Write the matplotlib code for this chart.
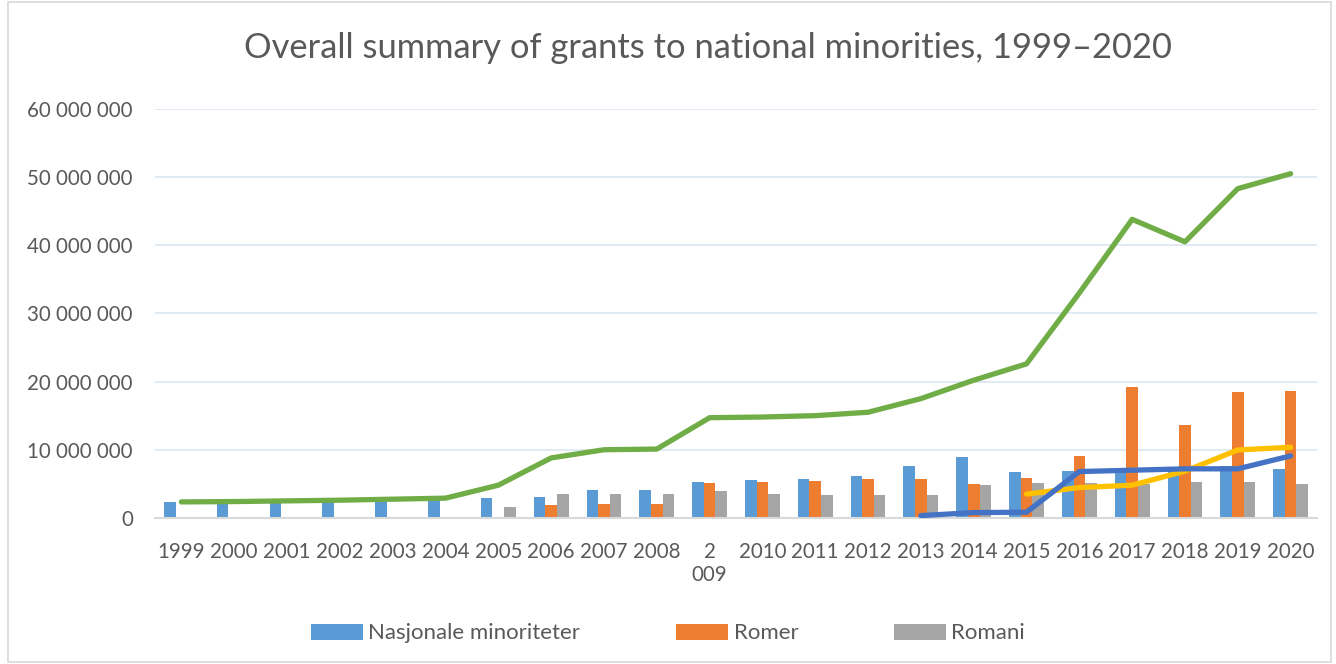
# grants to national minorities chart

import numpy as np
import matplotlib
matplotlib.use("Agg")
import matplotlib.pyplot as plt
from matplotlib.patches import Rectangle
from matplotlib.ticker import FuncFormatter

# data
years = ["1999", "2000", "2001", "2002", "2003", "2004", "2005", "2006", "2007", "2008",
         "2\n009", "2010", "2011", "2012", "2013", "2014", "2015", "2016", "2017", "2018",
         "2019", "2020"]

nasjonale = [2.4, 2.45, 2.5, 2.6, 2.7, 2.8, 2.9, 3.0, 4.06, 4.15,
             5.33, 5.53, 5.67, 6.11, 7.57, 9.0, 6.7, 6.94, 6.8, 7.0,
             7.6, 7.14]
romer = [None, None, None, None, None, None, None, 1.86, 2.0, 2.05,
         5.13, 5.28, 5.47, 5.67, 5.67, 4.94, 5.87, 9.04, 19.26, 13.6,
         18.43, 18.58]
romani = [None, None, None, None, None, None, 1.65, 3.56, 3.56, 3.56,
          3.89, 3.56, 3.42, 3.42, 3.42, 4.8, 5.09, 5.13, 5.0, 5.23,
          5.28, 4.91]

total = [2.35, 2.4, 2.5, 2.6, 2.75, 2.9, 4.8, 8.8, 10.0, 10.1,
         14.7, 14.8, 15.0, 15.5, 17.5, 20.2, 22.6, 33.0, 43.8, 40.5,
         48.3, 50.5]
line_yellow = [None] * 16 + [3.5, 4.45, 4.8, 6.86, 9.97, 10.37]
line_blue = [None] * 14 + [0.34, 0.78, 0.84, 6.8, 7.0, 7.2, 7.2, 9.1]


def to_arr(vals):
    return np.array([np.nan if v is None else v * 1e6 for v in vals])


fig = plt.figure(figsize=(13.36, 6.64), dpi=100)
plt.rcParams['font.family'] = ['Lato', 'DejaVu Sans']

ax = fig.add_axes([0.116, 0.22, 0.8698, 0.616])

x = np.arange(len(years))
w = 0.22
ax.bar(x - w, to_arr(nasjonale), w, color="#5B9BD5", label="Nasjonale minoriteter", zorder=2)
ax.bar(x, to_arr(romer), w, color="#ED7D31", label="Romer", zorder=2)
ax.bar(x + w, to_arr(romani), w, color="#A5A5A5", label="Romani", zorder=2)

ax.plot(x, to_arr(total), color="#70AD47", lw=3.8, solid_capstyle="round", zorder=3)
ax.plot(x, to_arr(line_yellow), color="#FFC000", lw=3.8, solid_capstyle="round", zorder=3)
ax.plot(x, to_arr(line_blue), color="#4472C4", lw=3.8, solid_capstyle="round", zorder=4)

ax.set_xlim(-0.5, len(years) - 0.5)
ax.set_ylim(0, 60e6)
ax.set_yticks(np.arange(0, 60e6 + 1, 10e6))
ax.yaxis.set_major_formatter(FuncFormatter(lambda v, p: f"{int(v):,}".replace(",", " ")))
ax.set_xticks(x)
ax.set_xticklabels(years)
ax.tick_params(axis="both", length=0, labelsize=14.8, colors="#595959")
ax.tick_params(axis="x", pad=17)
ax.tick_params(axis="y", pad=16)
ax.grid(axis="y", color="#DAE6F3", lw=1.2, zorder=0)
ax.set_axisbelow(True)
for s in ["top", "right", "left"]:
    ax.spines[s].set_visible(False)
ax.spines["bottom"].set_color("#D9D9D9")
ax.spines["bottom"].set_linewidth(1.5)

fig.text(0.53, 0.928, "Overall summary of grants to national minorities, 1999\u20132020",
         ha="center", va="center", fontsize=24.8, color="#595959")

fig.legend(loc="center", bbox_to_anchor=(0.5, 0.046), ncol=3, frameon=False,
           fontsize=16, labelcolor="#595959", handlelength=2.34, handleheight=0.75,
           handletextpad=0.25, columnspacing=4.3)

fig.patches.append(Rectangle((0.006, 0.003), 0.99, 0.994, transform=fig.transFigure,
                             fill=False, edgecolor="#D9D9D9", lw=1.2))

fig.savefig("out.png", dpi=100)
